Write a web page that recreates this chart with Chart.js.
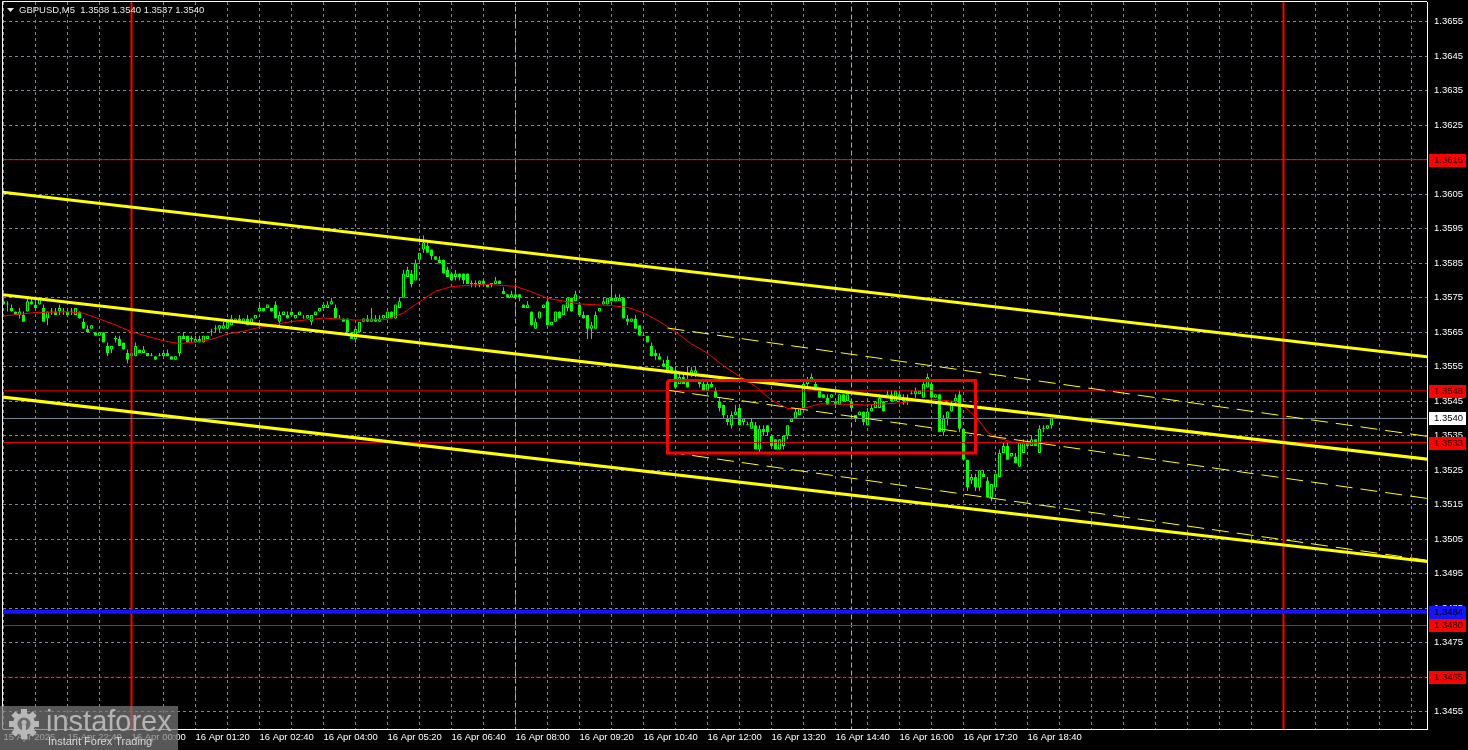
<!DOCTYPE html>
<html>
<head>
<meta charset="utf-8">
<title>GBPUSD,M5</title>
<script src="https://cdn.jsdelivr.net/npm/chart.js@4.4.1/dist/chart.umd.min.js"></script>
<style>
  html, body { margin: 0; padding: 0; background: #000; overflow: hidden; }
  #wrap { width: 1468px; height: 750px; }
</style>
</head>
<body>
<div id="wrap"><canvas id="chart" width="1468" height="750"></canvas></div>
<script>
// bar numbers count 5-minute candles from 16 Apr 00:00 (negative = 15 Apr)
const FIRST_BAR = -32;

const OPEN = [
  1.3574,1.3573,1.3572,1.3571,1.3570,1.3570,1.3571,1.3574,1.3573,1.3573,
  1.3572,1.3569,1.3571,1.3571,1.3571,1.3571,1.3571,1.3571,1.3570,1.3571,
  1.3568,1.3566,1.3566,1.3565,1.3564,1.3565,1.3561,1.3560,1.3563,1.3563,
  1.3562,1.3559,1.3558,1.3558,1.3560,1.3559,1.3559,1.3558,1.3558,1.3558,
  1.3558,1.3559,1.3558,1.3557,1.3559,1.3564,1.3564,1.3563,1.3562,1.3563,
  1.3562,1.3563,1.3565,1.3566,1.3566,1.3566,1.3566,1.3567,1.3568,1.3569,
  1.3568,1.3569,1.3567,1.3569,1.3571,1.3572,1.3572,1.3572,1.3573,1.3568,
  1.3570,1.3570,1.3571,1.3569,1.3570,1.3569,1.3569,1.3568,1.3570,1.3571,
  1.3572,1.3572,1.3573,1.3572,1.3569,1.3569,1.3569,1.3565,1.3563,1.3565,
  1.3568,1.3569,1.3568,1.3569,1.3568,1.3569,1.3569,1.3571,1.3569,1.3572,
  1.3575,1.3581,1.3582,1.3580,1.3586,1.3589,1.3590,1.3589,1.3587,1.3586,
  1.3586,1.3583,1.3582,1.3581,1.3582,1.3582,1.3582,1.3579,1.3579,1.3579,
  1.3580,1.3579,1.3579,1.3579,1.3580,1.3577,1.3576,1.3575,1.3576,1.3576,
  1.3573,1.3572,1.3571,1.3566,1.3569,1.3572,1.3574,1.3567,1.3568,1.3571,
  1.3570,1.3572,1.3575,1.3574,1.3573,1.3570,1.3570,1.3566,1.3566,1.3571,
  1.3573,1.3573,1.3575,1.3574,1.3574,1.3575,1.3569,1.3568,1.3569,1.3567,
  1.3564,1.3564,1.3561,1.3559,1.3558,1.3556,1.3557,1.3555,1.3554,1.3550,
  1.3552,1.3551,1.3553,1.3553,1.3551,1.3550,1.3548,1.3550,1.3548,1.3545,
  1.3544,1.3540,1.3538,1.3541,1.3543,1.3539,1.3538,1.3537,1.3538,1.3531,
  1.3537,1.3538,1.3535,1.3534,1.3531,1.3532,1.3535,1.3539,1.3540,1.3541,
  1.3543,1.3550,1.3551,1.3550,1.3548,1.3547,1.3546,1.3546,1.3545,1.3544,
  1.3547,1.3545,1.3545,1.3541,1.3541,1.3542,1.3538,1.3542,1.3543,1.3543,
  1.3545,1.3546,1.3547,1.3545,1.3547,1.3546,1.3545,1.3547,1.3547,1.3547,
  1.3546,1.3549,1.3550,1.3546,1.3547,1.3536,1.3540,1.3542,1.3545,1.3547,
  1.3537,1.3528,1.3522,1.3523,1.3520,1.3524,1.3522,1.3517,1.3520,1.3523,
  1.3530,1.3532,1.3529,1.3529,1.3526,1.3530,1.3533,1.3532,1.3534,1.3530,
  1.3537,1.3537,1.3538
];

const HIGH = [
  1.3575,1.3574,1.3573,1.3571,1.3572,1.3571,1.3575,1.3575,1.3575,1.3575,
  1.3573,1.3571,1.3572,1.3572,1.3573,1.3572,1.3571,1.3572,1.3572,1.3571,
  1.3569,1.3567,1.3567,1.3565,1.3565,1.3565,1.3562,1.3561,1.3564,1.3564,
  1.3562,1.3560,1.3560,1.3562,1.3560,1.3561,1.3559,1.3559,1.3558,1.3559,
  1.3559,1.3560,1.3558,1.3558,1.3564,1.3565,1.3564,1.3564,1.3564,1.3564,
  1.3564,1.3564,1.3566,1.3567,1.3567,1.3568,1.3568,1.3570,1.3569,1.3570,
  1.3569,1.3570,1.3569,1.3570,1.3573,1.3572,1.3573,1.3572,1.3574,1.3571,
  1.3571,1.3571,1.3571,1.3570,1.3571,1.3570,1.3570,1.3570,1.3571,1.3572,
  1.3573,1.3574,1.3575,1.3573,1.3570,1.3569,1.3569,1.3565,1.3566,1.3568,
  1.3569,1.3570,1.3572,1.3570,1.3570,1.3570,1.3571,1.3571,1.3573,1.3575,
  1.3583,1.3584,1.3583,1.3586,1.3588,1.3593,1.3591,1.3589,1.3587,1.3587,
  1.3586,1.3584,1.3582,1.3583,1.3582,1.3582,1.3582,1.3580,1.3580,1.3580,
  1.3580,1.3579,1.3579,1.3581,1.3580,1.3578,1.3576,1.3577,1.3577,1.3576,
  1.3573,1.3574,1.3571,1.3569,1.3571,1.3573,1.3575,1.3568,1.3571,1.3571,
  1.3573,1.3575,1.3575,1.3577,1.3573,1.3571,1.3570,1.3568,1.3571,1.3572,
  1.3575,1.3575,1.3579,1.3576,1.3576,1.3575,1.3570,1.3569,1.3570,1.3567,
  1.3565,1.3564,1.3562,1.3560,1.3559,1.3557,1.3558,1.3555,1.3555,1.3553,
  1.3553,1.3555,1.3555,1.3555,1.3551,1.3551,1.3551,1.3551,1.3549,1.3546,
  1.3544,1.3541,1.3542,1.3544,1.3544,1.3540,1.3539,1.3540,1.3539,1.3538,
  1.3538,1.3538,1.3535,1.3534,1.3534,1.3535,1.3538,1.3540,1.3543,1.3543,
  1.3551,1.3552,1.3553,1.3551,1.3548,1.3547,1.3547,1.3547,1.3545,1.3547,
  1.3547,1.3547,1.3545,1.3541,1.3542,1.3542,1.3543,1.3544,1.3545,1.3547,
  1.3545,1.3548,1.3548,1.3548,1.3548,1.3547,1.3547,1.3548,1.3549,1.3548,
  1.3551,1.3553,1.3551,1.3547,1.3547,1.3541,1.3542,1.3545,1.3547,1.3548,
  1.3537,1.3528,1.3524,1.3524,1.3525,1.3525,1.3523,1.3521,1.3524,1.3531,
  1.3533,1.3533,1.3530,1.3530,1.3533,1.3534,1.3534,1.3535,1.3534,1.3538,
  1.3538,1.3538,1.3540
];

const LOW = [
  1.3573,1.3571,1.3571,1.3570,1.3569,1.3568,1.3571,1.3573,1.3572,1.3573,
  1.3568,1.3567,1.3570,1.3570,1.3570,1.3570,1.3570,1.3570,1.3570,1.3569,
  1.3566,1.3565,1.3566,1.3564,1.3564,1.3562,1.3558,1.3559,1.3562,1.3561,
  1.3560,1.3556,1.3558,1.3558,1.3559,1.3559,1.3558,1.3558,1.3557,1.3558,
  1.3558,1.3558,1.3557,1.3557,1.3558,1.3563,1.3562,1.3562,1.3562,1.3562,
  1.3562,1.3563,1.3564,1.3565,1.3565,1.3566,1.3566,1.3567,1.3568,1.3568,
  1.3568,1.3567,1.3567,1.3569,1.3571,1.3571,1.3572,1.3571,1.3569,1.3567,
  1.3570,1.3569,1.3570,1.3569,1.3570,1.3569,1.3569,1.3567,1.3570,1.3571,
  1.3572,1.3572,1.3573,1.3569,1.3569,1.3568,1.3565,1.3563,1.3562,1.3565,
  1.3568,1.3568,1.3568,1.3568,1.3568,1.3569,1.3569,1.3569,1.3569,1.3572,
  1.3575,1.3581,1.3578,1.3580,1.3586,1.3588,1.3588,1.3586,1.3586,1.3585,
  1.3582,1.3581,1.3580,1.3580,1.3580,1.3579,1.3579,1.3578,1.3578,1.3578,
  1.3579,1.3578,1.3578,1.3579,1.3579,1.3576,1.3575,1.3575,1.3575,1.3574,
  1.3572,1.3572,1.3567,1.3566,1.3569,1.3572,1.3567,1.3567,1.3568,1.3569,
  1.3570,1.3571,1.3571,1.3574,1.3570,1.3569,1.3563,1.3563,1.3566,1.3571,
  1.3573,1.3573,1.3574,1.3574,1.3574,1.3569,1.3567,1.3568,1.3566,1.3564,
  1.3564,1.3562,1.3558,1.3557,1.3557,1.3555,1.3553,1.3553,1.3549,1.3550,
  1.3550,1.3549,1.3552,1.3552,1.3549,1.3548,1.3548,1.3549,1.3546,1.3542,
  1.3540,1.3538,1.3537,1.3541,1.3538,1.3538,1.3538,1.3537,1.3531,1.3530,
  1.3535,1.3535,1.3532,1.3531,1.3531,1.3531,1.3534,1.3539,1.3540,1.3541,
  1.3543,1.3549,1.3551,1.3548,1.3546,1.3546,1.3544,1.3546,1.3543,1.3544,
  1.3545,1.3545,1.3543,1.3539,1.3541,1.3538,1.3538,1.3542,1.3543,1.3543,
  1.3542,1.3546,1.3545,1.3545,1.3546,1.3544,1.3544,1.3547,1.3546,1.3547,
  1.3546,1.3549,1.3546,1.3546,1.3536,1.3535,1.3538,1.3542,1.3544,1.3536,
  1.3528,1.3519,1.3521,1.3519,1.3519,1.3523,1.3517,1.3516,1.3520,1.3523,
  1.3530,1.3528,1.3529,1.3527,1.3526,1.3530,1.3532,1.3532,1.3532,1.3530,
  1.3536,1.3537,1.3537
];

const CLOSE = [
  1.3573,1.3573,1.3571,1.3570,1.3571,1.3568,1.3574,1.3573,1.3572,1.3575,
  1.3568,1.3571,1.3571,1.3570,1.3572,1.3571,1.3570,1.3571,1.3572,1.3569,
  1.3566,1.3565,1.3567,1.3564,1.3565,1.3562,1.3559,1.3561,1.3563,1.3561,
  1.3560,1.3557,1.3559,1.3561,1.3559,1.3560,1.3558,1.3558,1.3557,1.3558,
  1.3559,1.3558,1.3557,1.3558,1.3564,1.3563,1.3562,1.3563,1.3563,1.3562,
  1.3564,1.3564,1.3565,1.3566,1.3567,1.3567,1.3568,1.3569,1.3569,1.3568,
  1.3569,1.3567,1.3569,1.3570,1.3572,1.3571,1.3573,1.3571,1.3569,1.3570,
  1.3571,1.3569,1.3570,1.3570,1.3571,1.3569,1.3570,1.3570,1.3571,1.3572,
  1.3573,1.3573,1.3574,1.3569,1.3569,1.3568,1.3565,1.3563,1.3566,1.3568,
  1.3569,1.3568,1.3569,1.3568,1.3569,1.3570,1.3571,1.3569,1.3573,1.3574,
  1.3582,1.3583,1.3579,1.3585,1.3588,1.3591,1.3588,1.3587,1.3586,1.3585,
  1.3582,1.3581,1.3580,1.3582,1.3581,1.3580,1.3579,1.3579,1.3579,1.3580,
  1.3579,1.3578,1.3579,1.3580,1.3579,1.3576,1.3575,1.3576,1.3575,1.3575,
  1.3572,1.3573,1.3567,1.3568,1.3571,1.3573,1.3567,1.3568,1.3571,1.3569,
  1.3573,1.3575,1.3571,1.3576,1.3570,1.3569,1.3566,1.3567,1.3570,1.3572,
  1.3574,1.3575,1.3574,1.3575,1.3575,1.3569,1.3568,1.3569,1.3566,1.3564,
  1.3564,1.3562,1.3558,1.3558,1.3557,1.3555,1.3554,1.3553,1.3549,1.3552,
  1.3550,1.3549,1.3554,1.3554,1.3550,1.3548,1.3550,1.3549,1.3546,1.3543,
  1.3541,1.3539,1.3541,1.3542,1.3538,1.3540,1.3538,1.3539,1.3531,1.3537,
  1.3536,1.3536,1.3532,1.3531,1.3534,1.3535,1.3538,1.3540,1.3542,1.3543,
  1.3550,1.3551,1.3552,1.3548,1.3546,1.3546,1.3544,1.3547,1.3544,1.3547,
  1.3545,1.3547,1.3543,1.3540,1.3542,1.3539,1.3542,1.3543,1.3545,1.3546,
  1.3542,1.3547,1.3545,1.3548,1.3546,1.3545,1.3546,1.3547,1.3548,1.3548,
  1.3550,1.3552,1.3546,1.3547,1.3536,1.3540,1.3542,1.3544,1.3546,1.3537,
  1.3528,1.3520,1.3523,1.3520,1.3525,1.3523,1.3517,1.3521,1.3524,1.3530,
  1.3532,1.3528,1.3530,1.3527,1.3533,1.3533,1.3532,1.3534,1.3532,1.3537,
  1.3537,1.3538,1.3540
];

// red moving average at these bars
const MA_BARS = [-32,-24,-16,-12,-8,-4,0,4,8,12,16,20,24,28,32,40,48,56,64,68,72,76,80,88,96,100,104,112,120,124,
  128,132,136,140,144,148,152,156,160,164,168,172,176,184,192,200,206,208,210,212,214,216,220,224,229];
const MA_VALUES = [1.35697,1.35707,1.35709,1.35705,1.35688,1.35671,1.35651,1.35638,1.35625,1.35617,1.35622,1.35629,1.35645,1.35653,1.35664,
  1.35681,1.35691,1.35685,1.35687,1.35706,1.35738,1.35769,1.35782,1.35789,1.35783,1.35767,1.35748,1.35732,1.35727,1.35722,
  1.35706,1.35681,1.35651,1.35616,1.35589,1.35553,1.35522,1.35493,1.35453,1.35429,1.35429,1.35442,1.35442,1.35439,1.35445,
  1.35456,1.35449,1.35436,1.35416,1.35392,1.35360,1.35346,1.35332,1.35326,1.35332];

// price channel (solid) and inner channel (dashed): [start, end] anchors
const CHANNEL_BARS = [-33, 324];
const CHANNEL_UPPER = [1.36057, 1.35579];
const CHANNEL_MIDDLE = [1.35760, 1.35282];
const CHANNEL_LOWER = [1.35463, 1.34985];
const INNER_BARS = [134, 324];
const INNER_UPPER = [1.35662, 1.35348];
const INNER_MIDDLE = [1.35482, 1.35168];
const INNER_LOWER = [1.35303, 1.34989];

// flat zone box
const BOX_BARS = [134, 211];
const BOX_PRICES = [1.3530, 1.3551];

// horizontal levels
const RED_LEVELS = [1.3615, 1.3548, 1.3533, 1.3480];
const BID_PRICE = 1.3540;
const BLUE_LEVEL = 1.3484;
const DOTTED_LEVEL = 1.3465;

// vertical markers
const DAY_BARS = [0, 288];
const SESSION_BARS = [96, 180];

// axes
const X_MIN = -32.125, X_MAX = 323.875;
const Y_MIN = 1.3450, Y_MAX = 1.36607;
const Y_TICKS = [1.3455,1.3465,1.3475,1.3485,1.3495,1.3505,1.3515,1.3525,1.3535,1.3545,1.3555,
  1.3565,1.3575,1.3585,1.3595,1.3605,1.3615,1.3625,1.3635,1.3645,1.3655];
const X_GRID_STEP = 8;
const X_LABEL_STEP = 16;
const X_LABELS = ['15 Apr 2025','15 Apr 22:40','16 Apr 00:00','16 Apr 01:20','16 Apr 02:40','16 Apr 04:00',
  '16 Apr 05:20','16 Apr 06:40','16 Apr 08:00','16 Apr 09:20','16 Apr 10:40','16 Apr 12:00','16 Apr 13:20',
  '16 Apr 14:40','16 Apr 16:00','16 Apr 17:20','16 Apr 18:40'];
const HEADER = 'GBPUSD,M5  1.3538 1.3540 1.3537 1.3540';

const FONT = "'Liberation Sans', Arial, sans-serif";
const LIME = '#00ff00';

const bars = OPEN.map((_, k) => FIRST_BAR + k);

function seg(xs, ys) {
  return xs.map((x, k) => ({ x: x, y: ys[k] }));
}
function hline(v, color, width, dash) {
  return { type: 'line', data: seg([CHANNEL_BARS[0], CHANNEL_BARS[1]], [v, v]), borderColor: color,
    borderWidth: width, borderDash: dash || [], pointRadius: 0, fill: false, order: 3 };
}
function vline(b, color, width, dash, order) {
  return { type: 'line', data: seg([b, b], [Y_MIN - 0.001, Y_MAX + 0.001]), borderColor: color,
    borderWidth: width, borderDash: dash || [], pointRadius: 0, fill: false, order: order };
}

const datasets = [];
// candles
datasets.push({
  type: 'bar', data: bars.map((b, k) => ({ x: b, y: [OPEN[k], CLOSE[k]] })),
  backgroundColor: c => CLOSE[c.dataIndex] > OPEN[c.dataIndex] ? '#000000' : LIME,
  borderColor: LIME, borderWidth: 1, borderSkipped: false, barThickness: 3, minBarLength: 1,
  grouped: false, inflateAmount: 0, order: 6
});
datasets.push({
  type: 'bar', data: bars.map((b, k) => ({ x: b, y: [LOW[k], HIGH[k]] })),
  backgroundColor: LIME, borderWidth: 0, barThickness: 1, grouped: false, inflateAmount: 0, order: 7
});
// moving average
datasets.push({ type: 'line', data: seg(MA_BARS, MA_VALUES), borderColor: '#ff0000', borderWidth: 1,
  pointRadius: 0, fill: false, tension: 0, order: 4 });
// levels
RED_LEVELS.forEach(v => datasets.push(hline(v, '#ff0000', 1)));
datasets.push(hline(BID_PRICE, '#778899', 1));
datasets.push(hline(BLUE_LEVEL, '#1414ff', 4));
datasets.push(hline(DOTTED_LEVEL, '#ff0000', 1, [2, 2]));
// day separators and session marks
DAY_BARS.forEach(b => datasets.push(vline(b, '#ff0000', 2, [], 5)));
SESSION_BARS.forEach(b => datasets.push(vline(b, '#9acd32', 1, [5, 3], 8)));
// channels
[CHANNEL_UPPER, CHANNEL_MIDDLE, CHANNEL_LOWER].forEach(ys => datasets.push({
  type: 'line', data: seg(CHANNEL_BARS, ys), borderColor: '#ffff00', borderWidth: 3,
  pointRadius: 0, fill: false, order: 1 }));
[INNER_UPPER, INNER_MIDDLE, INNER_LOWER].forEach(ys => datasets.push({
  type: 'line', data: seg(INNER_BARS, ys), borderColor: '#ffff00', borderWidth: 1, borderDash: [17, 8],
  pointRadius: 0, fill: false, order: 2 }));
// box
datasets.push({ type: 'line',
  data: seg([BOX_BARS[0], BOX_BARS[1], BOX_BARS[1], BOX_BARS[0], BOX_BARS[0]],
            [BOX_PRICES[1], BOX_PRICES[1], BOX_PRICES[0], BOX_PRICES[0], BOX_PRICES[1]]),
  borderColor: '#ff0000', borderWidth: 3, borderJoinStyle: 'miter', pointRadius: 0, fill: false, order: 0 });

const terminal = {
  id: 'terminal',
  beforeDraw(chart) {
    const ctx = chart.ctx;
    ctx.save();
    ctx.fillStyle = '#000';
    ctx.fillRect(0, 0, chart.width, chart.height);
    ctx.restore();
  },
  afterDraw(chart) {
    const ctx = chart.ctx, a = chart.chartArea, y = chart.scales.y;
    ctx.save();
    // top and left frame
    ctx.strokeStyle = '#ffffff';
    ctx.lineWidth = 1;
    ctx.beginPath();
    ctx.moveTo(a.left - 0.5, a.bottom);
    ctx.lineTo(a.left - 0.5, a.top - 0.5);
    ctx.lineTo(a.right, a.top - 0.5);
    ctx.stroke();

    // price badges on the axis
    const badge = (v, bg, fg) => {
      const py = Math.round(y.getPixelForValue(v));
      ctx.fillStyle = bg;
      ctx.fillRect(a.right + 2, py - 6, 37, 13);
      ctx.fillStyle = fg;
      ctx.font = '9.5px ' + FONT;
      ctx.textAlign = 'left';
      ctx.textBaseline = 'middle';
      ctx.fillText(v.toFixed(4), a.right + 7, py + 0.5);
    };
    RED_LEVELS.forEach(v => badge(v, '#ff0000', '#200000'));
    badge(DOTTED_LEVEL, '#ff0000', '#200000');
    badge(BID_PRICE, '#ffffff', '#000000');
    badge(BLUE_LEVEL, '#1414ff', '#000000');

    // header
    ctx.fillStyle = '#e8e8e8';
    ctx.font = '9.5px ' + FONT;
    ctx.textBaseline = 'middle';
    ctx.beginPath();
    ctx.moveTo(a.left + 4, a.top + 6);
    ctx.lineTo(a.left + 11, a.top + 6);
    ctx.lineTo(a.left + 7.5, a.top + 10);
    ctx.closePath();
    ctx.fill();
    ctx.fillText(HEADER, a.left + 16, a.top + 8);

    // watermark
    const wx = 0, wy = 706, ww = 178, wh = 44;
    ctx.fillStyle = 'rgba(120,120,120,0.72)';
    ctx.fillRect(wx, wy, ww, wh);
    ctx.fillStyle = '#b8b8b8';
    ctx.save();
    ctx.translate(wx + 24, wy + 18);
    for (let k = 0; k < 8; k++) {
      ctx.save();
      ctx.rotate(k * Math.PI / 4);
      ctx.fillRect(-3, -15, 6, 5);
      ctx.restore();
    }
    ctx.beginPath();
    ctx.arc(0, 0, 11, 0, Math.PI * 2);
    ctx.fill();
    ctx.fillStyle = '#6d6d6d';
    ctx.beginPath();
    ctx.arc(0, 0, 6.5, 0, Math.PI * 2);
    ctx.fill();
    ctx.fillStyle = '#b8b8b8';
    ctx.beginPath();
    ctx.arc(0, -1.5, 2.5, 0, Math.PI * 2);
    ctx.fill();
    ctx.fillRect(-2, 1, 4, 14);
    ctx.fillRect(-6, 6, 12, 3);
    ctx.restore();
    ctx.font = '29px ' + FONT;
    ctx.textBaseline = 'alphabetic';
    ctx.fillStyle = '#b4b4b4';
    ctx.fillText('instaforex', wx + 46, wy + 25);
    ctx.font = '11px ' + FONT;
    ctx.fillStyle = '#d8d8d8';
    ctx.fillText('Instant Forex Trading', wx + 48, wy + 39);
    ctx.restore();
  }
};

new Chart(document.getElementById('chart'), {
  type: 'bar',
  data: { datasets: datasets },
  options: {
    responsive: false,
    animation: false,
    events: [],
    layout: { padding: { left: 3, top: 2, right: 0, bottom: 0 } },
    plugins: { legend: { display: false }, tooltip: { enabled: false } },
    scales: {
      x: {
        type: 'linear', position: 'bottom', min: X_MIN, max: X_MAX, offset: false,
        afterFit: s => { s.height = 21; s.paddingLeft = 0; s.paddingRight = 0; },
        afterBuildTicks: s => {
          const t = [];
          for (let b = FIRST_BAR; b <= X_MAX; b += X_GRID_STEP) t.push({ value: b });
          s.ticks = t;
        },
        grid: { color: '#778899', lineWidth: 1, drawTicks: false, offset: false },
        border: { color: '#ffffff', width: 1, dash: [3, 3] },
        ticks: {
          color: '#ffffff', font: { family: FONT, size: 9.5 }, padding: 3, align: 'start',
          autoSkip: false, maxRotation: 0, minRotation: 0,
          callback: v => {
            const k = (v - FIRST_BAR) / X_LABEL_STEP;
            return Number.isInteger(k) && k < X_LABELS.length ? X_LABELS[k] : '';
          }
        }
      },
      y: {
        type: 'linear', position: 'right', min: Y_MIN, max: Y_MAX, beginAtZero: false,
        afterFit: s => { s.width = 41; s.paddingTop = 0; s.paddingBottom = 0; },
        afterBuildTicks: s => { s.ticks = Y_TICKS.map(v => ({ value: v })); },
        grid: { color: '#778899', lineWidth: 1, drawTicks: false },
        border: { color: '#ffffff', width: 1, dash: [3, 3] },
        ticks: { color: '#ffffff', font: { family: FONT, size: 9.5 }, padding: 7,
          callback: v => v.toFixed(4) }
      }
    }
  },
  plugins: [terminal]
});
</script>
</body>
</html>
